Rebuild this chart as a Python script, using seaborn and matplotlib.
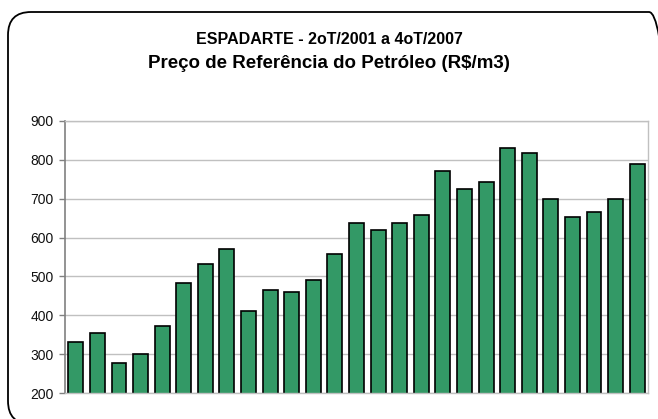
import matplotlib
matplotlib.use("Agg")
import matplotlib.pyplot as plt
import seaborn as sns
import pandas as pd
from matplotlib.patches import FancyBboxPatch

# 2oT/2001 .. 4oT/2007, quarterly
trimestres = ['2T01', '3T01', '4T01',
              '1T02', '2T02', '3T02', '4T02',
              '1T03', '2T03', '3T03', '4T03',
              '1T04', '2T04', '3T04', '4T04',
              '1T05', '2T05', '3T05', '4T05',
              '1T06', '2T06', '3T06', '4T06',
              '1T07', '2T07', '3T07', '4T07']
precos = [330, 355, 278, 300, 372, 482, 533, 570, 410, 465, 461, 491, 557,
          637, 620, 638, 658, 772, 725, 742, 831, 818, 700, 654, 667, 700, 789]
y_ticks = [200, 300, 400, 500, 600, 700, 800, 900]

df = pd.DataFrame({'trimestre': trimestres, 'preco': precos})

sns.set_theme(style='white')
plt.rcParams['font.family'] = ['Liberation Sans', 'DejaVu Sans']

fig = plt.figure(figsize=(6.58, 4.19), dpi=100)
fig.patch.set_facecolor('white')

# rounded frame of the chart area (runs past the right and bottom edges)
frame = FancyBboxPatch((8 / 658, 1 - 424 / 419), 664 / 658, 412 / 419,
                       boxstyle='round,pad=0,rounding_size=0.035',
                       transform=fig.transFigure, facecolor='none',
                       edgecolor='black', linewidth=1.3, mutation_aspect=658 / 419)
fig.patches.append(frame)

ax = fig.add_axes([65 / 658, 1 - 393 / 419, 583 / 658, 272 / 419])
sns.barplot(data=df, x='trimestre', y='preco', color='#339966', saturation=1,
            width=0.69, edgecolor='black', linewidth=1.2, ax=ax)

ax.set_ylim(200, 900)
ax.set_xlim(-0.5, len(trimestres) - 0.5)
ax.set_yticks(y_ticks)
ax.set_yticklabels([str(v) for v in y_ticks], fontsize=10, color='#111111')
ax.set_xticks([])
ax.set_xlabel('')
ax.set_ylabel('')
ax.yaxis.grid(True, color='#c0c0c0', linewidth=1)
ax.set_axisbelow(True)
ax.tick_params(axis='y', length=4, width=1, color='#808080', direction='out', pad=4, left=True)
ax.spines['left'].set_color('#808080')
ax.spines['left'].set_linewidth(1.2)
for s in ['top', 'right', 'bottom']:
    ax.spines[s].set_color('#c0c0c0')
    ax.spines[s].set_linewidth(1)

fig.text(0.5, 1 - 39 / 419, 'ESPADARTE - 2oT/2001 a 4oT/2007', ha='center', va='center',
         fontsize=11.5, fontweight='bold', color='black')
fig.text(0.5, 1 - 63 / 419, 'Preço de Referência do Petróleo (R$/m3)', ha='center', va='center',
         fontsize=13.5, fontweight='bold', color='black')

fig.savefig('out.png', dpi=100, facecolor='white')
